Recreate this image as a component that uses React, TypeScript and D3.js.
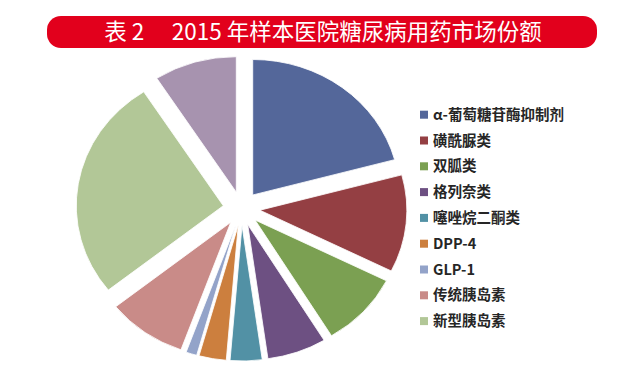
import React from "react";
import * as d3 from "d3";

const categories = ["α-葡萄糖苷酶抑制剂", "磺酰脲类", "双胍类", "格列奈类", "噻唑烷二酮类", "DPP-4", "GLP-1", "传统胰岛素", "新型胰岛素", "其他"];
const shares = [20.8, 11.6, 8.9, 6.5, 3.5, 3.0, 1.2, 8.8, 26.6, 9.1];
const colors = ["#54679A", "#943F43", "#7BA052", "#6D5082", "#5291A5", "#CC7F3E", "#93A3C9", "#C98B88", "#B2C797", "#A793AF"];
const legendCount = 9;
const title = "表 2\u3000 2015 年样本医院糖尿病用药市场份额";

export default function App() {
  const cx = 241.5, cy = 208.5, R = 135.5, explode = 17, sx = 1.085;
  const pie = d3.pie<number>().sort(null).value((d) => d);
  const arcs = pie(shares);
  const arc = d3.arc<d3.PieArcDatum<number>>().innerRadius(0).outerRadius(R);
  const legendY = d3.scalePoint<number>().domain(d3.range(legendCount)).range([114.7, 114.7 + 25.8 * (legendCount - 1)]);
  const font = "'Noto Sans CJK SC', 'Noto Sans', sans-serif";
  return (
    <svg width={640} height={378} style={{ position: "absolute", left: 0, top: 0, background: "#fff" }}>
      <rect x={47} y={16} width={550} height={32} rx={14} ry={14} fill="#E2001C" />
      <text x={323} y={40} textAnchor="middle" fill="#fff" fontSize={22.5} fontFamily={font} style={{ whiteSpace: "pre" }}>
        {title}
      </text>
      <g transform={`translate(${cx},${cy}) scale(${sx},1)`}>
        {arcs.map((a, i) => {
          const mid = (a.startAngle + a.endAngle) / 2;
          const dx = Math.sin(mid) * explode;
          const dy = -Math.cos(mid) * explode;
          return (
            <path key={i} d={arc(a) || ""} fill={colors[i]} transform={`translate(${dx},${dy})`} stroke="#fff" strokeWidth={0.8} />
          );
        })}
      </g>
      <g>
        {categories.slice(0, legendCount).map((c, i) => (
          <g key={c} transform={`translate(420,${legendY(i)})`}>
            <rect x={0} y={-4} width={8} height={8} fill={colors[i]} />
            <text x={13} y={5} fontSize={14.5} fontWeight={700} fill="#262626" fontFamily={font}>
              {c}
            </text>
          </g>
        ))}
      </g>
    </svg>
  );
}
